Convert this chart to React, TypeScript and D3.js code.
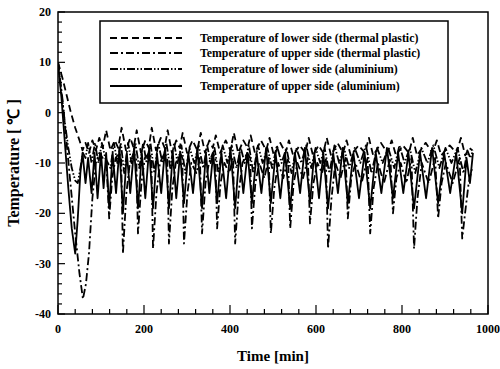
import React from 'react';
import * as d3 from 'd3';

const X_TICKS = [0, 200, 400, 600, 800, 1000];
const Y_TICKS = [20, 10, 0, -10, -20, -30, -40];
const SERIES_NAMES = [
  'Temperature of lower side (thermal plastic)',
  'Temperature of upper side (thermal plastic)',
  'Temperature of lower side (aluminium)',
  'Temperature of upper side (aluminium)',
];

type P = [number, number];

const lowerPlastic: P[] = [
  [0,10],[10,7],[20,3.5],[30,0],[40,-3],[50,-5.5],[57,-7.5],[64,-6],[72,-8],[80,-5.5],[88,-7.5],[96,-5],[104,-7],
  [112,-3.5],[122,-7.5],[132,-5.5],[140,-7],
  [148,-3],[158,-7.5],[168,-5],[176,-7],
  [183,-3.5],[193,-8],[203,-5.5],[211,-7],
  [218,-3],[228,-7.5],[239,-5],[248,-7],
  [255,-3.5],[265,-8],[275,-5.5],[283,-7],
  [290,-4],[300,-8],[313,-5.5],[324,-7.5],
  [332,-4],[342,-8],[352,-5.5],[360,-7],
  [367,-4.5],[377,-8],[390,-5.5],[401,-7.5],
  [409,-4],[419,-8],[431,-5.5],[441,-7],
  [448,-4.5],[458,-8],[472,-5.5],[484,-7.5],
  [492,-5],[502,-8.5],[517,-6],[529,-8],
  [537,-5.5],[547,-8.5],[562,-6.5],[575,-8],
  [583,-5],[593,-8.5],[606,-6.5],[617,-8],
  [625,-5],[635,-8.5],[650,-6],[663,-8],
  [671,-5.5],[681,-8.5],[699,-6.5],[714,-8],
  [723,-5],[733,-8.5],[751,-6],[766,-8],
  [776,-5.5],[786,-8.5],[802,-6.5],[816,-8],
  [825,-5],[835,-8.5],[855,-6],[871,-8],
  [881,-5.5],[891,-8.5],[911,-6.5],[927,-8],
  [937,-5],[947,-8.5],[956,-7],[964,-7.5],
];

const upperPlastic: P[] = [
  [0,10],[10,3],[20,-6],[30,-15],[40,-24],[50,-32],[58,-37],[65,-34],[72,-28],[80,-17],[88,-10],[96,-8],[104,-9],[112,-9],
  [119,-21],[126,-13],[134,-9],[142,-8],[147,-9],
  [151,-28],[159,-16],[167,-10],[176,-8],[182,-9],
  [186,-24],[194,-14],[202,-9],[212,-8],[217,-9],
  [221,-27],[229,-16],[237,-10],[248,-8],[254,-9],
  [258,-26],[266,-15],[274,-10],[284,-8],[289,-9],
  [293,-26],[301,-16],[310,-10],[322,-12],[330,-9],
  [335,-24],[343,-14],[351,-10],[360,-8],[366,-9],
  [370,-23],[378,-14],[387,-10],[398,-12],[407,-9],
  [412,-26],[420,-16],[429,-10],[440,-8],[447,-9],
  [451,-23],[459,-14],[468,-10],[480,-13],[490,-9],
  [495,-24],[503,-15],[512,-10],[524,-13],[535,-9],
  [540,-23],[548,-14],[557,-10],[570,-13],[581,-9],
  [586,-22],[594,-14],[603,-10],[614,-12],[623,-9],
  [628,-27],[636,-17],[645,-10],[657,-13],[669,-9],
  [674,-21],[682,-13],[692,-10],[706,-14],[720,-9],
  [726,-24],[734,-15],[744,-10],[758,-14],[773,-9],
  [779,-20],[787,-13],[797,-10],[810,-14],[822,-9],
  [828,-27],[836,-17],[846,-10],[862,-14],[877,-9],
  [884,-21],[892,-14],[902,-10],[918,-14],[934,-9],
  [940,-25],[948,-19],[955,-14],[963,-11],
];

const lowerAlu: P[] = [
  [0,10],[8,4],[16,-2],[24,-7],[32,-11],[40,-13.5],[46,-14],[52,-11],[58,-8],[64,-9],[70,-6],[78,-10],[86,-6],[94,-10],[102,-6],[110,-9],
  [122,-11],[130,-6],[138,-10],[146,-6],
  [154,-12],[163,-6],[171,-10],[180,-6],
  [189,-11],[198,-6],[206,-10],[215,-6],
  [224,-12],[233,-6],[243,-10],[252,-6],
  [261,-11],[270,-6],[278,-10],[287,-6.5],
  [296,-12],[306,-7],[317,-10],[327,-6.5],
  [338,-11],[347,-6.5],[355,-10],[364,-7],
  [373,-12],[383,-6.5],[394,-10],[404,-6.5],
  [415,-11],[425,-7],[434,-10],[444,-6.5],
  [454,-12],[465,-6.5],[476,-10],[487,-7],
  [498,-11],[509,-6.5],[520,-10],[531,-7],
  [543,-12],[554,-7],[566,-10],[577,-6.5],
  [589,-11],[599,-7],[610,-10],[620,-7],
  [631,-12],[643,-6.5],[654,-10],[665,-7],
  [677,-11],[690,-7],[703,-10],[716,-6.5],
  [729,-12],[742,-7],[755,-10],[768,-7],
  [782,-11],[794,-6.5],[806,-10],[818,-7],
  [831,-12],[845,-7],[859,-10],[873,-6.5],
  [887,-11],[901,-7],[915,-10],[929,-7],
  [943,-12],[952,-7.5],[959,-9],[965,-7.5],
];

const upperAlu: P[] = [
  [0,10],[8,3],[16,-6],[24,-15],[32,-23],[40,-28],[46,-21],[52,-12],[57,-8],
  [64,-14],[70,-9],[78,-16],[85,-8],[92,-17],[100,-8],[106,-15],[112,-8],
  [119,-19],[127,-8],[135,-16],[143,-7],
  [151,-20],[160,-8],[168,-16],[177,-7],
  [186,-19],[195,-8],[203,-17],[212,-7],
  [221,-19],[230,-8],[240,-16],[249,-7],
  [258,-19],[267,-8],[275,-17],[284,-8],
  [293,-18],[303,-8],[314,-16],[324,-7],
  [335,-19],[344,-8],[352,-16],[361,-8],
  [370,-18],[380,-8],[391,-17],[401,-7],
  [412,-19],[422,-8],[431,-16],[441,-8],
  [451,-18],[462,-8],[473,-16],[484,-7],
  [495,-18],[506,-8],[517,-17],[528,-8],
  [540,-19],[551,-8],[563,-16],[574,-7],
  [586,-18],[596,-8],[607,-17],[617,-8],
  [628,-19],[640,-8],[651,-16],[662,-7],
  [674,-18],[687,-8],[700,-17],[713,-8],
  [726,-19],[739,-8],[752,-16],[765,-7],
  [779,-17],[791,-8],[803,-16],[815,-8],
  [828,-19],[842,-8],[856,-17],[870,-7],
  [884,-18],[898,-8],[912,-16],[926,-8],
  [940,-20],[950,-9],[958,-14],[965,-8],
];

const SERIES = [lowerPlastic, upperPlastic, lowerAlu, upperAlu];
const DASHES = ['7,4', '8,3,2,3', '8,2,1.5,2,1.5,2', 'none'];

const FONT = "'Liberation Serif', 'Times New Roman', serif";

export default function App() {
  const left = 58, right = 488, top = 12, bottom = 314;
  const x = d3.scaleLinear().domain([0, 1000]).range([left, right]);
  const y = d3.scaleLinear().domain([-40, 20]).range([bottom, top]);
  const line = d3.line<P>().x(d => x(d[0])).y(d => y(d[1]));
  const xMinor = d3.range(0, 1001, 40);
  const yMinor = d3.range(-40, 21, 2);

  const lg = { x0: 100, y0: 21, x1: 448, y1: 103 };
  const rowY = [38, 53, 69, 86];

  return (
    <svg width={500} height={369} style={{ position: 'absolute', left: 0, top: 0, background: '#fff' }}
      fontFamily={FONT} fontWeight="bold">
      <defs>
        <clipPath id="plot"><rect x={left} y={top} width={right - left} height={bottom - top} /></clipPath>
      </defs>
      <g clipPath="url(#plot)">
        {SERIES.map((s, i) => (
          <path key={i} d={line(s) || ''} fill="none" stroke="#000" strokeWidth={1.8}
            strokeDasharray={DASHES[i]} strokeLinejoin="round" />
        ))}
      </g>
      <rect x={left} y={top} width={right - left} height={bottom - top} fill="none" stroke="#000" strokeWidth={1.5} />
      {xMinor.map(v => {
        const major = v % 200 === 0;
        return <line key={'xm' + v} x1={x(v)} x2={x(v)} y1={bottom} y2={bottom - (major ? 9 : 5)} stroke="#000" strokeWidth={1.2} />;
      })}
      {yMinor.map(v => {
        const major = v % 10 === 0;
        return <line key={'ym' + v} x1={left} x2={left + (major ? 7 : 4)} y1={y(v)} y2={y(v)} stroke="#000" strokeWidth={1.2} />;
      })}
      {X_TICKS.map(v => (
        <text key={'xt' + v} x={x(v)} y={bottom + 19} textAnchor="middle" fontSize={12}>{v}</text>
      ))}
      {Y_TICKS.map(v => (
        <text key={'yt' + v} x={left - 7} y={y(v) + 4} textAnchor="end" fontSize={12}>{v}</text>
      ))}
      <text x={273} y={361} textAnchor="middle" fontSize={15}>Time [min]</text>
      <text transform={`translate(19,${(top + bottom) / 2}) rotate(-90)`} textAnchor="middle" fontSize={16}>Temperature [ ℃ ]</text>
      <rect x={lg.x0} y={lg.y0} width={lg.x1 - lg.x0} height={lg.y1 - lg.y0} fill="#fff" stroke="#000" strokeWidth={1.5} />
      {SERIES_NAMES.map((n, i) => (
        <g key={n}>
          <line x1={110} x2={182} y1={rowY[i]} y2={rowY[i]} stroke="#000" strokeWidth={1.8} strokeDasharray={DASHES[i]} />
          <text x={200} y={rowY[i] + 4} fontSize={11.8}>{n}</text>
        </g>
      ))}
    </svg>
  );
}
